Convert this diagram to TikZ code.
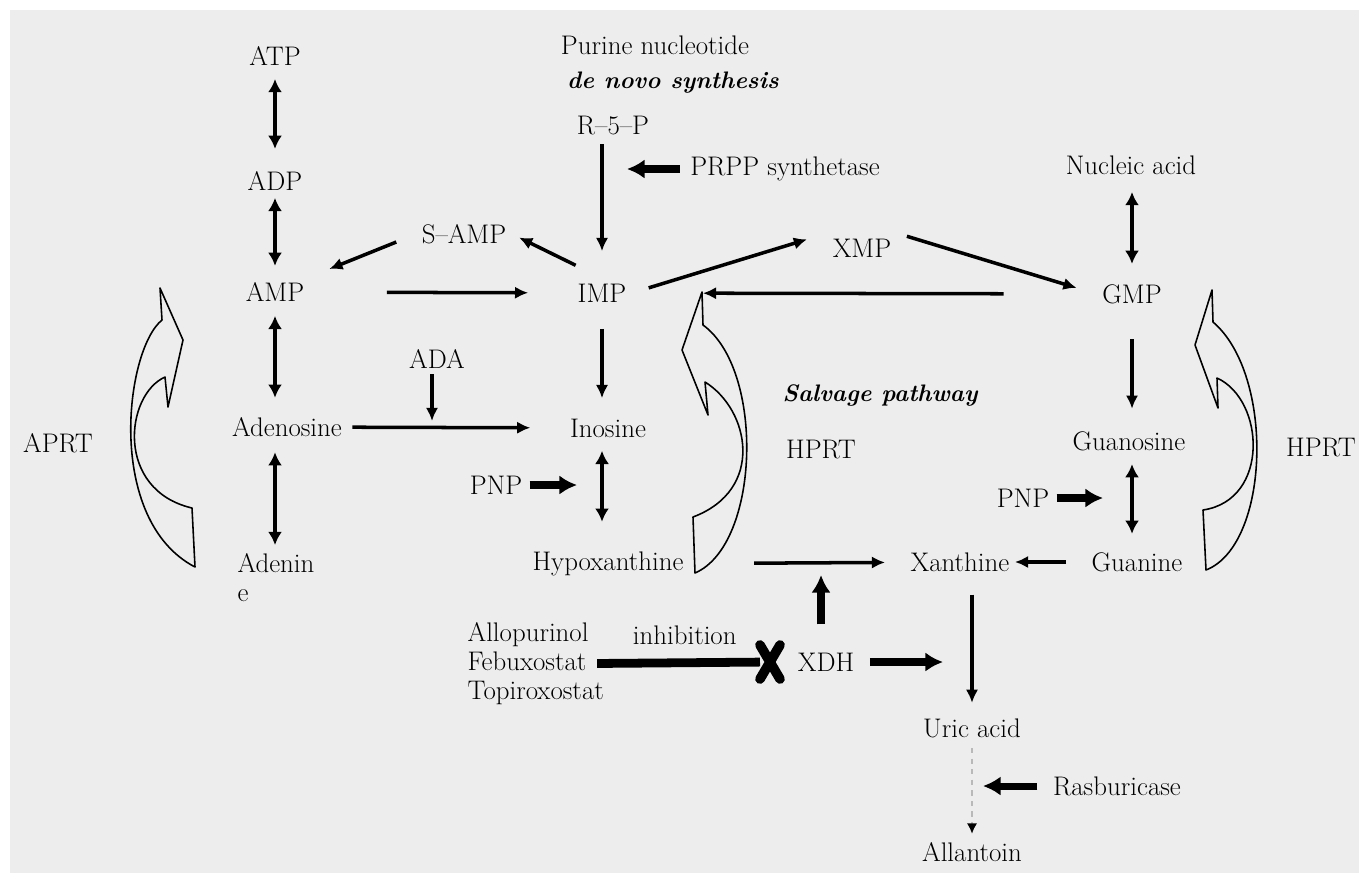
\documentclass[tikz,border=0pt]{standalone}
\usepackage{tikz}
\usetikzlibrary{arrows.meta}
\usepackage{xcolor}

\definecolor{bggray}{RGB}{237,237,237}
\definecolor{dashgray}{RGB}{185,185,185}

\tikzset{
	chem/.style={inner sep=3pt, font=\fontsize{15.3}{16.5}\selectfont},
	note/.style={chem, font=\fontsize{13.6}{16.5}\selectfont\bfseries\itshape},
	conv/.style={-{Latex[length=7.5pt,width=7pt]}, line width=2pt},
	rev/.style={{Latex[length=7.5pt,width=8pt]}-{Latex[length=7.5pt,width=8pt]}, line width=2pt},
	enz/.style={-{Latex[length=10pt,width=11pt]}, line width=4pt},
	band/.style={line width=0.9pt, line join=round}
}

\begin{document}
\begin{tikzpicture}[x=0.02cm, y=-0.02cm]

	% background
	\useasboundingbox (0,0) rectangle (1359,873);
	\fill[bggray] (10,10) rectangle (1359,873);

	% adenine nucleotides
	\node[chem] (atp) at (275,56) {ATP};
	\node[chem] (adp) at (275,181) {ADP};
	\node[chem] (amp) at (275,292) {AMP};
	\node[chem] (adenosine) at (287,427) {Adenosine};
	\node[chem, align=left, anchor=north west] (adenine) at (232,548) {Adenin\\e};
	\node[chem] (aprt) at (58,443) {APRT};

	\draw[rev, shorten <=4.5pt, shorten >=9.7pt] (atp) -- (adp);
	\draw[rev, shorten <=1pt, shorten >=6.3pt] (adp) -- (amp);
	\draw[rev, shorten <=5pt, shorten >=8pt] (amp) -- (amp |- adenosine.north);
	\draw[rev, shorten <=5.7pt, shorten >=1.7pt] (amp |- adenosine.south) -- (amp |- adenine.north);

	% de novo synthesis
	\node[chem] (purine) at (655,45) {Purine nucleotide};
	\node[note] (denovo) at (673,83) {de novo synthesis};
	\node[chem] (r5p) at (613,126) {R\textendash5\textendash P};
	\node[chem] (prpp) at (785,169) {PRPP synthetase};
	\node[chem] (imp) at (602,293) {IMP};
	\node[chem] (samp) at (464,234) {S\textendash AMP};
	\node[chem] (xmp) at (862,248) {XMP};
	\coordinate (prppend) at (627,169);

	\draw[conv, shorten <=1.7pt, shorten >=15.4pt] (imp |- r5p.south) -- (imp);
	\draw[enz, shorten <=2.8pt] (prpp) -- (prppend);
	\draw[conv, shorten <=16.7pt, shorten >=4.6pt] (imp.north) -- (samp.east);
	\draw[conv, shorten <=12.2pt, shorten >=12pt] (samp.west) -- (amp.north east);
	\draw[conv, shorten <=43.8pt, shorten >=25pt] (amp) -- (imp);
	\draw[conv, shorten <=10pt, shorten >=12pt] (imp.east) -- (xmp.north west);

	% guanine nucleotides
	\node[chem] (nucleic) at (1131,165) {Nucleic acid};
	\node[chem] (gmp) at (1132,294) {GMP};
	\node[chem] (guanosine) at (1129,441) {Guanosine};
	\node[chem] (guanine) at (1137,562) {Guanine};
	\node[chem] (pnpg) at (1023,498) {PNP};
	\node[chem] (hprtr) at (1321,448) {HPRT};
	\coordinate (pnpgend) at (1103,498);

	\draw[conv, shorten <=6pt, shorten >=12pt] (xmp.north east) -- (gmp.west);
	\draw[conv, shorten <=53pt, shorten >=40.4pt] (gmp) -- (imp);
	\draw[rev, shorten <=6.8pt, shorten >=8.5pt] (gmp |- nucleic.south) -- (gmp);
	\draw[conv, shorten <=17pt, shorten >=9.7pt] (gmp) -- (gmp |- guanosine.north);
	\draw[rev, shorten <=4.5pt, shorten >=7.4pt] (gmp |- guanosine.south) -- (gmp |- guanine.north);
	\draw[enz, shorten <=1pt] (pnpg) -- (pnpgend);

	% nucleosides and bases
	\node[chem] (ada) at (437,359) {ADA};
	\node[chem] (inosine) at (608,428) {Inosine};
	\node[chem] (pnpi) at (496,485) {PNP};
	\node[chem] (hypo) at (608,564) {Hypoxanthine};
	\node[chem] (xanthine) at (960,562) {Xanthine};
	\node[note] (salvage) at (880,396) {Salvage pathway};
	\node[chem] (hprtm) at (821,450) {HPRT};
	\coordinate (adaend) at (432,421);
	\coordinate (pnpiend) at (577,485);

	\draw[conv, shorten <=2.8pt, shorten >=19.4pt] (adenosine) -- (inosine);
	\draw[conv] (ada.south -| adaend) -- (adaend);
	\draw[conv, shorten <=12pt, shorten >=8.5pt] (imp) -- (imp |- inosine.north);
	\draw[rev, shorten <=4.5pt, shorten >=14pt] (imp |- inosine.south) -- (imp |- hypo.north);
	\draw[enz, shorten <=1pt] (pnpi) -- (pnpiend);
	\draw[conv, shorten <=37pt, shorten >=11.4pt] (hypo) -- (xanthine);
	\draw[conv, shorten <=11.4pt] (guanine) -- (xanthine);

	% xanthine dehydrogenase and inhibitors
	\node[chem] (xdh) at (826,662) {XDH};
	\node[chem, align=left, anchor=west] (drugs) at (462,664) {Allopurinol\\Febuxostat\\Topiroxostat};
	\node[minimum width=11pt, minimum height=19pt, inner sep=0pt] (block) at (770,662) {};
	\coordinate (xdhup) at (821,575);
	\coordinate (xdhend) at (943,662);

	\draw[enz, shorten <=13pt] (xdhup |- xdh.north) -- (xdhup);
	\draw[enz, shorten <=5.7pt] (xdh) -- (xdhend);
	\draw[line width=5pt, shorten <=-7pt] (drugs) -- (block) node[chem, midway, above=5pt] (inhibit) {inhibition};
	\draw[line width=5.5pt, line cap=round] (block.north west) -- (block.south east) (block.north east) -- (block.south west);

	% uric acid
	\node[chem] (uric) at (972,728) {Uric acid};
	\node[chem] (allantoin) at (972,852) {Allantoin};
	\node[chem] (rasburicase) at (1117,786) {Rasburicase};
	\coordinate (rasend) at (983,786);

	\draw[conv, shorten <=10pt, shorten >=5.7pt] (xanthine.south -| uric) -- (uric);
	\draw[dashgray, dashed, line width=1.6pt, -{Latex[black,length=6pt,width=6pt]}, shorten <=2.8pt, shorten >=1.7pt] (uric) -- (allantoin);
	\draw[enz, shorten <=5.7pt] (rasburicase) -- (rasend);

	% salvage arrows
	\draw[band] (195,567) .. controls (105,520) and (125,350) .. (162,320) -- (160,288) -- (183,340) -- (168,407) -- (165,377) .. controls (125,395) and (115,490) .. (192,508) -- cycle;
	\draw[band] (695,573) .. controls (760,545) and (765,370) .. (703,325) -- (702,292) -- (682,350) -- (708,415) -- (705,382) .. controls (750,410) and (765,490) .. (693,517) -- cycle;
	\draw[band] (1206,570) .. controls (1270,545) and (1275,375) .. (1213,322) -- (1212,290) -- (1195,345) -- (1218,408) -- (1217,378) .. controls (1265,400) and (1270,500) .. (1203,510) -- cycle;

\end{tikzpicture}
\end{document}
